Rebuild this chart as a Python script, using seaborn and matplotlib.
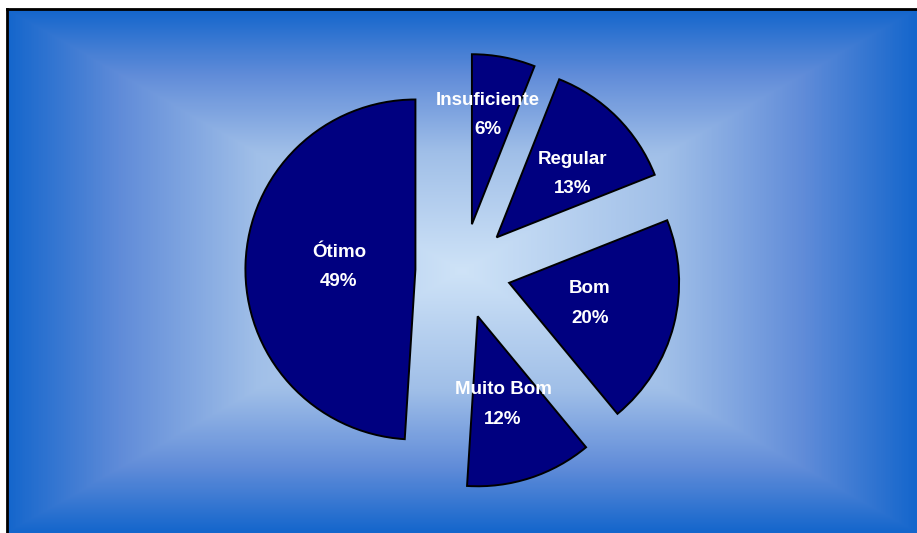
import numpy as np
import matplotlib
matplotlib.use("Agg")
import matplotlib.pyplot as plt
import seaborn as sns
from matplotlib.colors import LinearSegmentedColormap

# ---- data ----
categories = ["Insuficiente", "Regular", "Bom", "Muito Bom", "Ótimo"]
values = [6, 13, 20, 12, 49]
pct_labels = ["6%", "13%", "20%", "12%", "49%"]

# ---- style ----
sns.set_style("white")
plt.rcParams['font.family'] = ['Liberation Sans', 'DejaVu Sans']

W, H = 917, 533
fig = plt.figure(figsize=(W / 100, H / 100), dpi=100)
fig.patch.set_facecolor("white")

# background panel (rectangular gradient from the centre)
x0, y0 = 7, 9  # left/top of panel in pixels
bg = fig.add_axes([x0 / W, 0, 1 - x0 / W, 1 - y0 / H])
nx, ny = 910, 524
xs = np.linspace(-1, 1, nx)
ys = np.linspace(-1, 1, ny)
XX, YY = np.meshgrid(xs, ys)
T = np.maximum(np.abs(XX), np.abs(YY))
cmap = LinearSegmentedColormap.from_list(
    "bg",
    [(0.0, (0.81, 0.89, 0.97)),
     (0.45, (0.63, 0.75, 0.91)),
     (0.75, (0.38, 0.55, 0.85)),
     (1.0, (0.08, 0.40, 0.80))])
bg.imshow(T, cmap=cmap, vmin=0, vmax=1, aspect="auto", interpolation="bilinear")
bg.set_xticks([])
bg.set_yticks([])
for side in ["right", "bottom"]:
    bg.spines[side].set_visible(False)
for side in ["top", "left"]:
    bg.spines[side].set_visible(True)
    bg.spines[side].set_color("black")
    bg.spines[side].set_linewidth(2)

# pie axes
ax = fig.add_axes([0, 0, 1, 1])
ax.patch.set_alpha(0)
R = 170.0
cx, cy = 463.0, 271.0
explode = [0.28] * len(values)
wedges, _ = ax.pie(values, explode=explode, startangle=90, counterclock=False,
                   colors=["#000080"] * len(values),
                   wedgeprops=dict(edgecolor="black", linewidth=1.4))
ax.set_xlim(-cx / R, (W - cx) / R)
ax.set_ylim(-(H - cy) / R, cy / R)
ax.set_aspect("equal")
ax.axis("off")

label_r = [0.65, 0.58, 0.49, 0.54, 0.45]
label_turn = [2.5, -5.0, 0.0, -2.0, 0.0]  # degrees, positive = counter-clockwise
for w, cat, pct, d, turn in zip(wedges, categories, pct_labels, label_r, label_turn):
    th = np.deg2rad((w.theta1 + w.theta2) / 2 + turn)
    px = w.center[0] + d * np.cos(th)
    py = w.center[1] + d * np.sin(th)
    ax.text(px, py, f"{cat}\n{pct}", ha="center", va="center", color="white",
            fontsize=13.5, fontweight="bold", linespacing=1.95)

fig.savefig("out.png", dpi=100)
